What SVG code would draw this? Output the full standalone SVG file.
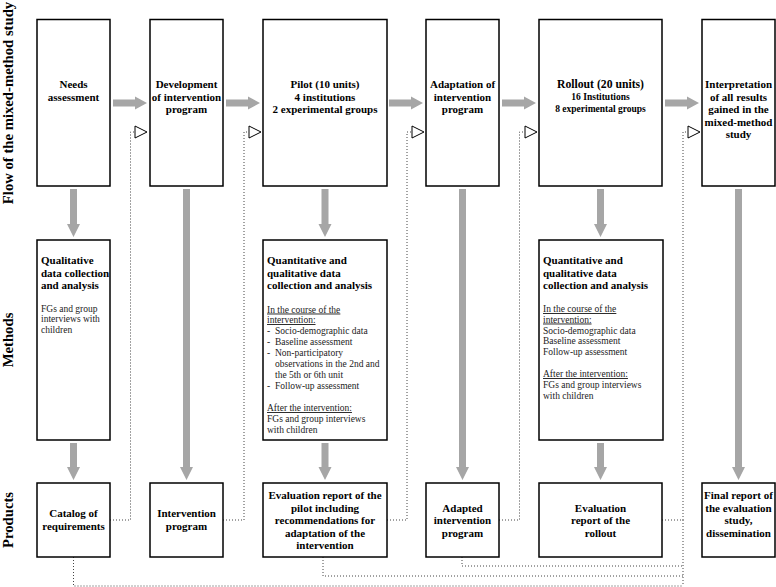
<svg xmlns="http://www.w3.org/2000/svg" width="776" height="587" viewBox="0 0 776 587">
<style>
  .box { fill: #fff; stroke: #000; stroke-width: 1.5; }
  .t { font-family: "Liberation Serif", "Times New Roman", serif; font-weight: bold; font-size: 11px; fill: #000; text-anchor: middle; }
  .tl { font-family: "Liberation Serif", "Times New Roman", serif; font-weight: bold; font-size: 11px; fill: #000; }
  .b { font-family: "Liberation Serif", "Times New Roman", serif; font-size: 9.5px; fill: #222; }
  .u { text-decoration: underline; }
  .lab { font-family: "Liberation Serif", "Times New Roman", serif; font-weight: bold; font-size: 14.7px; fill: #000; text-anchor: middle; }
  .ga { fill: #a6a6a6; stroke: none; }
  .dot { fill: none; stroke: #444; stroke-width: 1; stroke-dasharray: 1 2; }
  .tri { fill: #fff; stroke: #000; stroke-width: 1; }
</style>

<g id="row-labels">
  <text class="lab" transform="translate(13,103) rotate(-90)">Flow of the mixed-method study</text>
  <text class="lab" transform="translate(13,340) rotate(-90)">Methods</text>
  <text class="lab" transform="translate(13,520) rotate(-90)">Products</text>
</g>

<g id="connectors">
  <!-- gray horizontal arrows -->
  <path class="ga" d="M113,99.5 H135 V96.5 L147,103 L135,109.5 V106.5 H113 Z"/>
  <path class="ga" d="M226,99.5 H248 V96.5 L260,103 L248,109.5 V106.5 H226 Z"/>
  <path class="ga" d="M389,99.5 H411 V96.5 L423,103 L411,109.5 V106.5 H389 Z"/>
  <path class="ga" d="M502,99.5 H524 V96.5 L536,103 L524,109.5 V106.5 H502 Z"/>
  <path class="ga" d="M665,99.5 H687 V96.5 L699,103 L687,109.5 V106.5 H665 Z"/>
  <!-- gray vertical arrows -->
  <path class="ga" d="M70,189 V224 H67 L73.5,237 L80,224 H77 V189 Z"/>
  <path class="ga" d="M70,443 V467 H67 L73.5,480 L80,467 H77 V443 Z"/>
  <path class="ga" d="M183,189 V467 H180 L186.5,480 L193,467 H190 V189 Z"/>
  <path class="ga" d="M321.5,189 V224 H318.5 L325,237 L331.5,224 H328.5 V189 Z"/>
  <path class="ga" d="M321.5,443 V467 H318.5 L325,480 L331.5,467 H328.5 V443 Z"/>
  <path class="ga" d="M459,189 V467 H456 L462.5,480 L469,467 H466 V189 Z"/>
  <path class="ga" d="M597,189 V224 H594 L600.5,237 L607,224 H604 V189 Z"/>
  <path class="ga" d="M597,443 V467 H594 L600.5,480 L607,467 H604 V443 Z"/>
  <path class="ga" d="M735,189 V467 H732 L738.5,480 L745,467 H742 V189 Z"/>
  <!-- dotted feedback connectors -->
  <path class="dot" d="M110,520 H130.5 V132 H135"/>
  <path class="dot" d="M223,520 H244 V132 H249"/>
  <path class="dot" d="M387,520 H407 V132 H412"/>
  <path class="dot" d="M499,520 H519.5 V132 H525"/>
  <path class="dot" d="M662,520 H683 V132 H688"/>
  <path class="dot" d="M73.5,557 V586 H683"/>
  <path class="dot" d="M323,557 V576 H683"/>
  <path class="dot" d="M462,557 V566 H683"/>
  <path class="dot" d="M683,520 V586"/>
  <!-- open triangles -->
  <polygon class="tri" points="135,126 135,138 147,132"/>
  <polygon class="tri" points="249,126 249,138 261,132"/>
  <polygon class="tri" points="412,126 412,138 424,132"/>
  <polygon class="tri" points="525,126 525,138 537,132"/>
  <polygon class="tri" points="688,126 688,138 700,132"/>
</g>

<g id="flow-needs">
  <rect class="box" x="37" y="19.5" width="73" height="166.5"/>
  <text class="t" x="73.5" y="88">Needs</text>
  <text class="t" x="73.5" y="100.5">assessment</text>
</g>
<g id="flow-development">
  <rect class="box" x="150" y="19.5" width="73" height="166.5"/>
  <text class="t" x="186.5" y="88">Development</text>
  <text class="t" x="186.5" y="100.5">of intervention</text>
  <text class="t" x="186.5" y="113">program</text>
</g>
<g id="flow-pilot">
  <rect class="box" x="263" y="19.5" width="124" height="166.5"/>
  <text class="t" x="325" y="88">Pilot (10 units)</text>
  <text class="t" x="325" y="100.5">4 institutions</text>
  <text class="t" x="325" y="113">2 experimental groups</text>
</g>
<g id="flow-adaptation">
  <rect class="box" x="426" y="19.5" width="73" height="166.5"/>
  <text class="t" x="462.5" y="88">Adaptation of</text>
  <text class="t" x="462.5" y="100.5">intervention</text>
  <text class="t" x="462.5" y="113">program</text>
</g>
<g id="flow-rollout">
  <rect class="box" x="539" y="19.5" width="123" height="166.5"/>
  <text class="t" x="600.5" y="88" style="font-size:11.7px">Rollout (20 units)</text>
  <text class="t" x="600.5" y="100" style="font-size:9.5px">16 Institutions</text>
  <text class="t" x="600.5" y="112" style="font-size:9.5px">8 experimental groups</text>
</g>
<g id="flow-interpretation">
  <rect class="box" x="702" y="19.5" width="73" height="166.5"/>
  <text class="t" x="738.5" y="88">Interpretation</text>
  <text class="t" x="738.5" y="100.5">of all results</text>
  <text class="t" x="738.5" y="113">gained in the</text>
  <text class="t" x="738.5" y="125.5">mixed-method</text>
  <text class="t" x="738.5" y="138">study</text>
</g>

<g id="method-qualitative">
  <rect class="box" x="37" y="240" width="73" height="200"/>
  <text class="tl" x="41" y="264">Qualitative</text>
  <text class="tl" x="41" y="276.5">data collection</text>
  <text class="tl" x="41" y="289">and analysis</text>
  <text class="b" x="41" y="311.5">FGs and group</text>
  <text class="b" x="41" y="322">interviews with</text>
  <text class="b" x="41" y="332.5">children</text>
</g>
<g id="method-pilot">
  <rect class="box" x="263" y="240" width="124" height="200"/>
  <text class="tl" x="267" y="264">Quantitative and</text>
  <text class="tl" x="267" y="276.5">qualitative data</text>
  <text class="tl" x="267" y="289">collection and analysis</text>
  <text class="b u" x="267" y="312.5">In the course of the</text>
  <text class="b u" x="267" y="323">intervention:</text>
  <text class="b" y="334"><tspan x="267">-</tspan><tspan x="275">Socio-demographic data</tspan></text>
  <text class="b" y="345"><tspan x="267">-</tspan><tspan x="275">Baseline assessment</tspan></text>
  <text class="b" y="356"><tspan x="267">-</tspan><tspan x="275">Non-participatory</tspan></text>
  <text class="b" x="275" y="367">observations in the 2nd and</text>
  <text class="b" x="275" y="378">the 5th or 6th unit</text>
  <text class="b" y="389"><tspan x="267">-</tspan><tspan x="275">Follow-up assessment</tspan></text>
  <text class="b u" x="267" y="411">After the intervention:</text>
  <text class="b" x="267" y="422">FGs and group interviews</text>
  <text class="b" x="267" y="432.5">with children</text>
</g>
<g id="method-rollout">
  <rect class="box" x="539" y="240" width="124" height="200"/>
  <text class="tl" x="543" y="264">Quantitative and</text>
  <text class="tl" x="543" y="276.5">qualitative data</text>
  <text class="tl" x="543" y="289">collection and analysis</text>
  <text class="b u" x="543" y="312">In the course of the</text>
  <text class="b u" x="543" y="322.5">intervention:</text>
  <text class="b" x="543" y="333.5">Socio-demographic data</text>
  <text class="b" x="543" y="344">Baseline assessment</text>
  <text class="b" x="543" y="355">Follow-up assessment</text>
  <text class="b u" x="543" y="377">After the intervention:</text>
  <text class="b" x="543" y="388">FGs and group interviews</text>
  <text class="b" x="543" y="398.5">with children</text>
</g>

<g id="product-catalog">
  <rect class="box" x="37" y="483" width="73" height="74"/>
  <text class="t" x="73.5" y="517">Catalog of</text>
  <text class="t" x="73.5" y="530">requirements</text>
</g>
<g id="product-intervention">
  <rect class="box" x="150" y="483" width="73" height="74"/>
  <text class="t" x="186.5" y="517">Intervention</text>
  <text class="t" x="186.5" y="530">program</text>
</g>
<g id="product-pilot-report">
  <rect class="box" x="263" y="483" width="124" height="74"/>
  <text class="t" x="325" y="499">Evaluation report of the</text>
  <text class="t" x="325" y="511.5">pilot including</text>
  <text class="t" x="325" y="524">recommendations for</text>
  <text class="t" x="325" y="536.5">adaptation of the</text>
  <text class="t" x="325" y="549">intervention</text>
</g>
<g id="product-adapted">
  <rect class="box" x="426" y="483" width="73" height="74"/>
  <text class="t" x="462.5" y="511.5">Adapted</text>
  <text class="t" x="462.5" y="524">intervention</text>
  <text class="t" x="462.5" y="536.5">program</text>
</g>
<g id="product-rollout-report">
  <rect class="box" x="539" y="483" width="123" height="74"/>
  <text class="t" x="600.5" y="511.5">Evaluation</text>
  <text class="t" x="600.5" y="524">report of the</text>
  <text class="t" x="600.5" y="536.5">rollout</text>
</g>
<g id="product-final">
  <rect class="box" x="702" y="483" width="73" height="74"/>
  <text class="t" x="738.5" y="499">Final report of</text>
  <text class="t" x="738.5" y="511.5">the evaluation</text>
  <text class="t" x="738.5" y="524">study,</text>
  <text class="t" x="738.5" y="536.5">dissemination</text>
</g>
</svg>
